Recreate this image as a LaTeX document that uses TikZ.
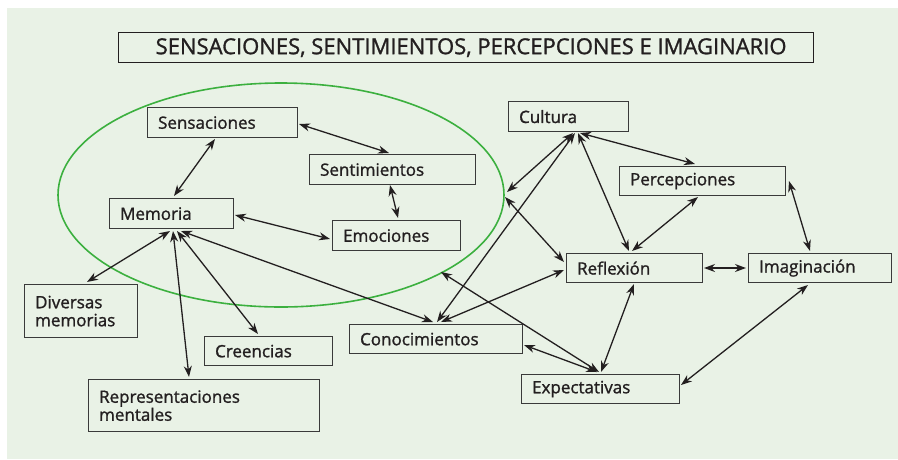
\documentclass[tikz,border=0pt]{standalone}
\usepackage{fontspec}
\setmainfont{Open Sans}[FakeBold=1.2]
\usetikzlibrary{arrows.meta,calc}
\definecolor{bg}{HTML}{E9F2E6}
\definecolor{ink}{HTML}{231F20}
\definecolor{boxline}{HTML}{3A3A3A}
\definecolor{ellgreen}{HTML}{3CB03F}
\begin{document}
\begin{tikzpicture}[x=1pt,y=-1pt,
  bx/.style={draw=boxline, line width=1.2pt, anchor=north west, inner xsep=10.5pt, inner ysep=0pt,
    align=left, text=ink, font=\fontsize{17}{18}\selectfont},
  tip/.tip={Stealth[length=11pt,width=8pt,inset=3.5pt]},
  arr/.style={draw=ink, line width=1.3pt, tip-tip}]
\useasboundingbox (0,0) rectangle (898,459);
\fill[bg] (7,8) rectangle (898,459);
\draw[ellgreen, line width=1.6pt] (281,195) ellipse [x radius=223, y radius=112];

\node[draw=ink, line width=1.2pt, anchor=north west, minimum width=695pt, minimum height=30pt,
  inner sep=0pt, text=ink, font=\fontsize{22}{24}\selectfont] (title) at (118,32)
  {\hspace*{10pt}SENSACIONES, SENTIMIENTOS, PERCEPCIONES E IMAGINARIO};

\node[bx, text width=129pt, minimum height=30pt] (sens) at (147,107) {Sensaciones};
\node[bx, text width=145pt, minimum height=30pt] (sent) at (309,154) {Sentimientos};
\node[bx, text width=103pt, minimum height=30pt] (mem) at (109,198) {Memoria};
\node[bx, text width=107pt, minimum height=30pt] (emo) at (332,220) {Emociones};
\node[bx, text width=99pt, minimum height=30pt] (cult) at (508,101) {Cultura};
\node[bx, text width=145pt, minimum height=29pt] (perc) at (619,166) {Percepciones};
\node[bx, text width=115pt, minimum height=29pt] (refl) at (566,253) {Reflexión};
\node[bx, text width=122pt, minimum height=29pt] (imag) at (748,253) {Imaginación};
\node[bx, text width=137pt, minimum height=29pt] (expe) at (521,374) {Expectativas};
\node[bx, text width=152pt, minimum height=29pt] (cono) at (349,324) {Conocimientos};
\node[bx, text width=92pt, minimum height=53pt] (div) at (24,284) {Diversas\\memorias};
\node[bx, text width=107pt, minimum height=29pt] (cree) at (204,336) {Creencias};
\node[bx, text width=210pt, minimum height=52pt] (rep) at (88,379) {Representaciones\\mentales};

\coordinate (e1) at (507,192);
\coordinate (e2) at (505,197);
\coordinate (e3) at (441,272);

\draw[arr] ($(sens.north west)+(68,32)$) -- ($(mem.north west)+(65,-2)$);
\draw[arr] ($(sens.north west)+(152,17)$) -- ($(sent.north west)+(80,-1)$);
\draw[arr] ($(sent.north west)+(81,31)$) -- ($(emo.north west)+(66,-2)$);
\draw[arr] ($(mem.north west)+(126,17)$) -- ($(emo.north west)+(-2,19)$);
\draw[arr] ($(mem.north west)+(61,33)$) -- ($(div.north west)+(63,-2)$);
\draw[arr] ($(mem.north west)+(64,33)$) -- ($(rep.north west)+(101,-2)$);
\draw[arr] ($(mem.north west)+(68,33)$) -- ($(cree.north west)+(54,-2)$);
\draw[arr] ($(mem.north west)+(72,33)$) -- ($(cono.north west)+(84,-2)$);
\draw[arr] ($(cult.north west)+(65,32)$) -- (e1);
\draw[arr] (e2) -- ($(refl.north west)+(-2,9)$);
\draw[arr] ($(cult.north west)+(67,32)$) -- ($(cono.north west)+(88,-2)$);
\draw[arr] ($(cult.north west)+(70,32)$) -- ($(refl.north west)+(63,-2)$);
\draw[arr] ($(cult.north west)+(72,32)$) -- ($(perc.north west)+(76,-2)$);
\draw[arr] ($(perc.north west)+(79,31)$) -- ($(refl.north west)+(66,-2)$);
\draw[arr] ($(perc.north west)+(170,15)$) -- ($(imag.north west)+(62,-2)$);
\draw[arr] ($(refl.north west)+(138,15)$) -- ($(imag.north west)+(-2,15)$);
\draw[arr] ($(cono.north west)+(92,-2)$) -- ($(refl.north west)+(-2,17)$);
\draw[arr] ($(refl.north west)+(68,31)$) -- ($(expe.north west)+(80,-2)$);
\draw[arr] ($(imag.north west)+(60,32)$) -- ($(expe.north west)+(160,11)$);
\draw[arr] ($(cono.north west)+(175,21)$) -- ($(expe.north west)+(76,-2)$);
\draw[arr] (e3) -- ($(expe.north west)+(78,-2)$);
\end{tikzpicture}
\end{document}
